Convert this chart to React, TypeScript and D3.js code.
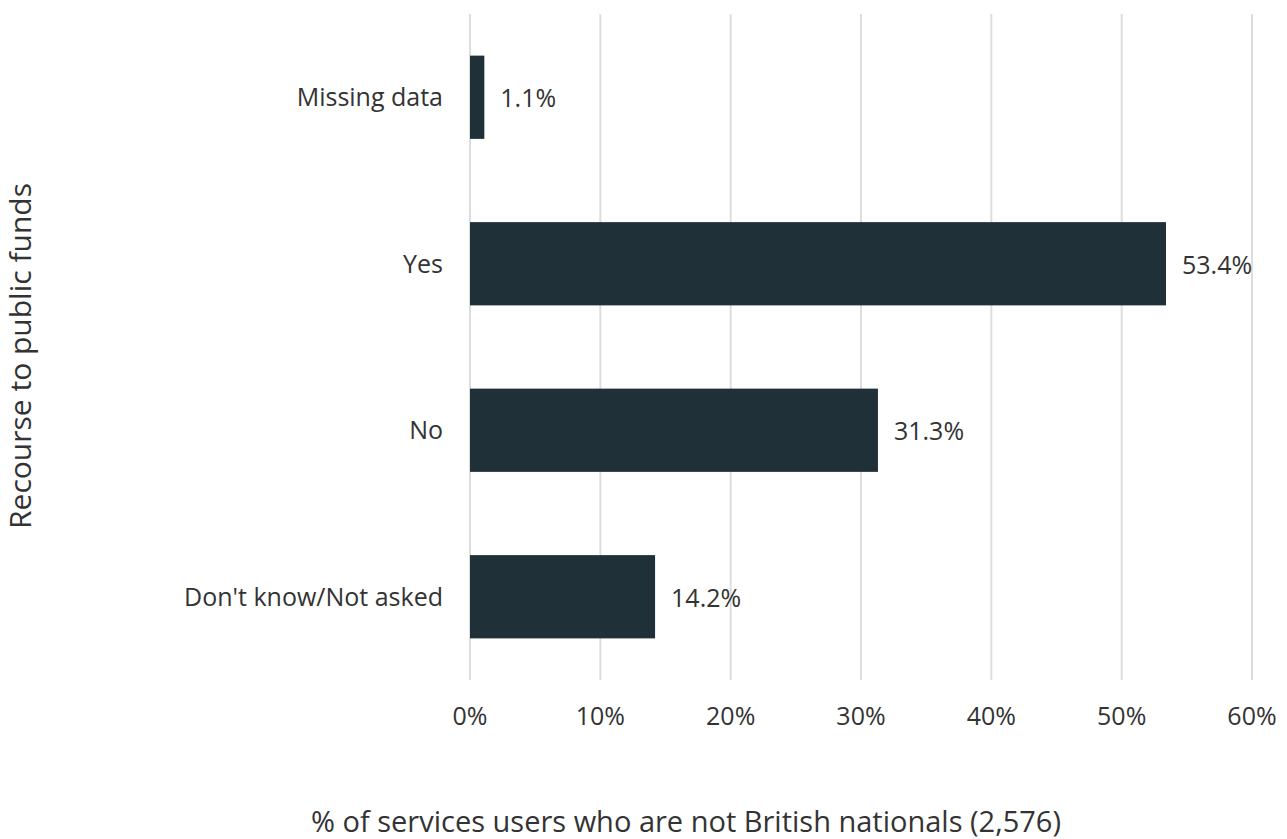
import React from "react";
import * as d3 from "d3";

const categories = ["Missing data", "Yes", "No", "Don't know/Not asked"];
const values = [1.1, 53.4, 31.3, 14.2];
const xTicks = [0, 10, 20, 30, 40, 50, 60];
const xTitle = "% of services users who are not British nationals (2,576)";
const yTitle = "Recourse to public funds";

const W = 1287;
const H = 839;
const font = "'Open Sans', 'Noto Sans', sans-serif";

export default function App() {
  const x = d3.scaleLinear().domain([0, 60]).range([470, 1252]);
  const y = d3
    .scaleBand<string>()
    .domain(categories)
    .range([14, 680])
    .paddingInner(0.5)
    .paddingOuter(0.25);

  return (
    <svg
      width={W}
      height={H}
      style={{ position: "absolute", left: 0, top: 0, background: "#fff" }}
      fontFamily={font}
    >
      {xTicks.map((t) => (
        <g key={t}>
          <line x1={x(t)} x2={x(t)} y1={14} y2={680} stroke="#dddddd" strokeWidth={2} />
          <text x={x(t)} y={725} textAnchor="middle" fontSize={25} fill="#333">
            {t}%
          </text>
        </g>
      ))}
      {categories.map((c, i) => (
        <g key={c}>
          <rect
            x={x(0)}
            y={y(c)!}
            width={x(values[i]) - x(0)}
            height={y.bandwidth()}
            fill="#1f3038"
          />
          <text
            x={443}
            y={y(c)! + y.bandwidth() / 2 + 9}
            textAnchor="end"
            fontSize={25}
            fill="#333"
          >
            {c}
          </text>
          <text
            x={x(values[i]) + 16}
            y={y(c)! + y.bandwidth() / 2 + 10}
            fontSize={25}
            fill="#333"
          >
            {values[i].toFixed(1)}%
          </text>
        </g>
      ))}
      <text x={686} y={832} textAnchor="middle" fontSize={29} fill="#333">
        {xTitle}
      </text>
      <text
        transform={`translate(31, 356) rotate(-90)`}
        textAnchor="middle"
        fontSize={30}
        fill="#333"
      >
        {yTitle}
      </text>
    </svg>
  );
}
